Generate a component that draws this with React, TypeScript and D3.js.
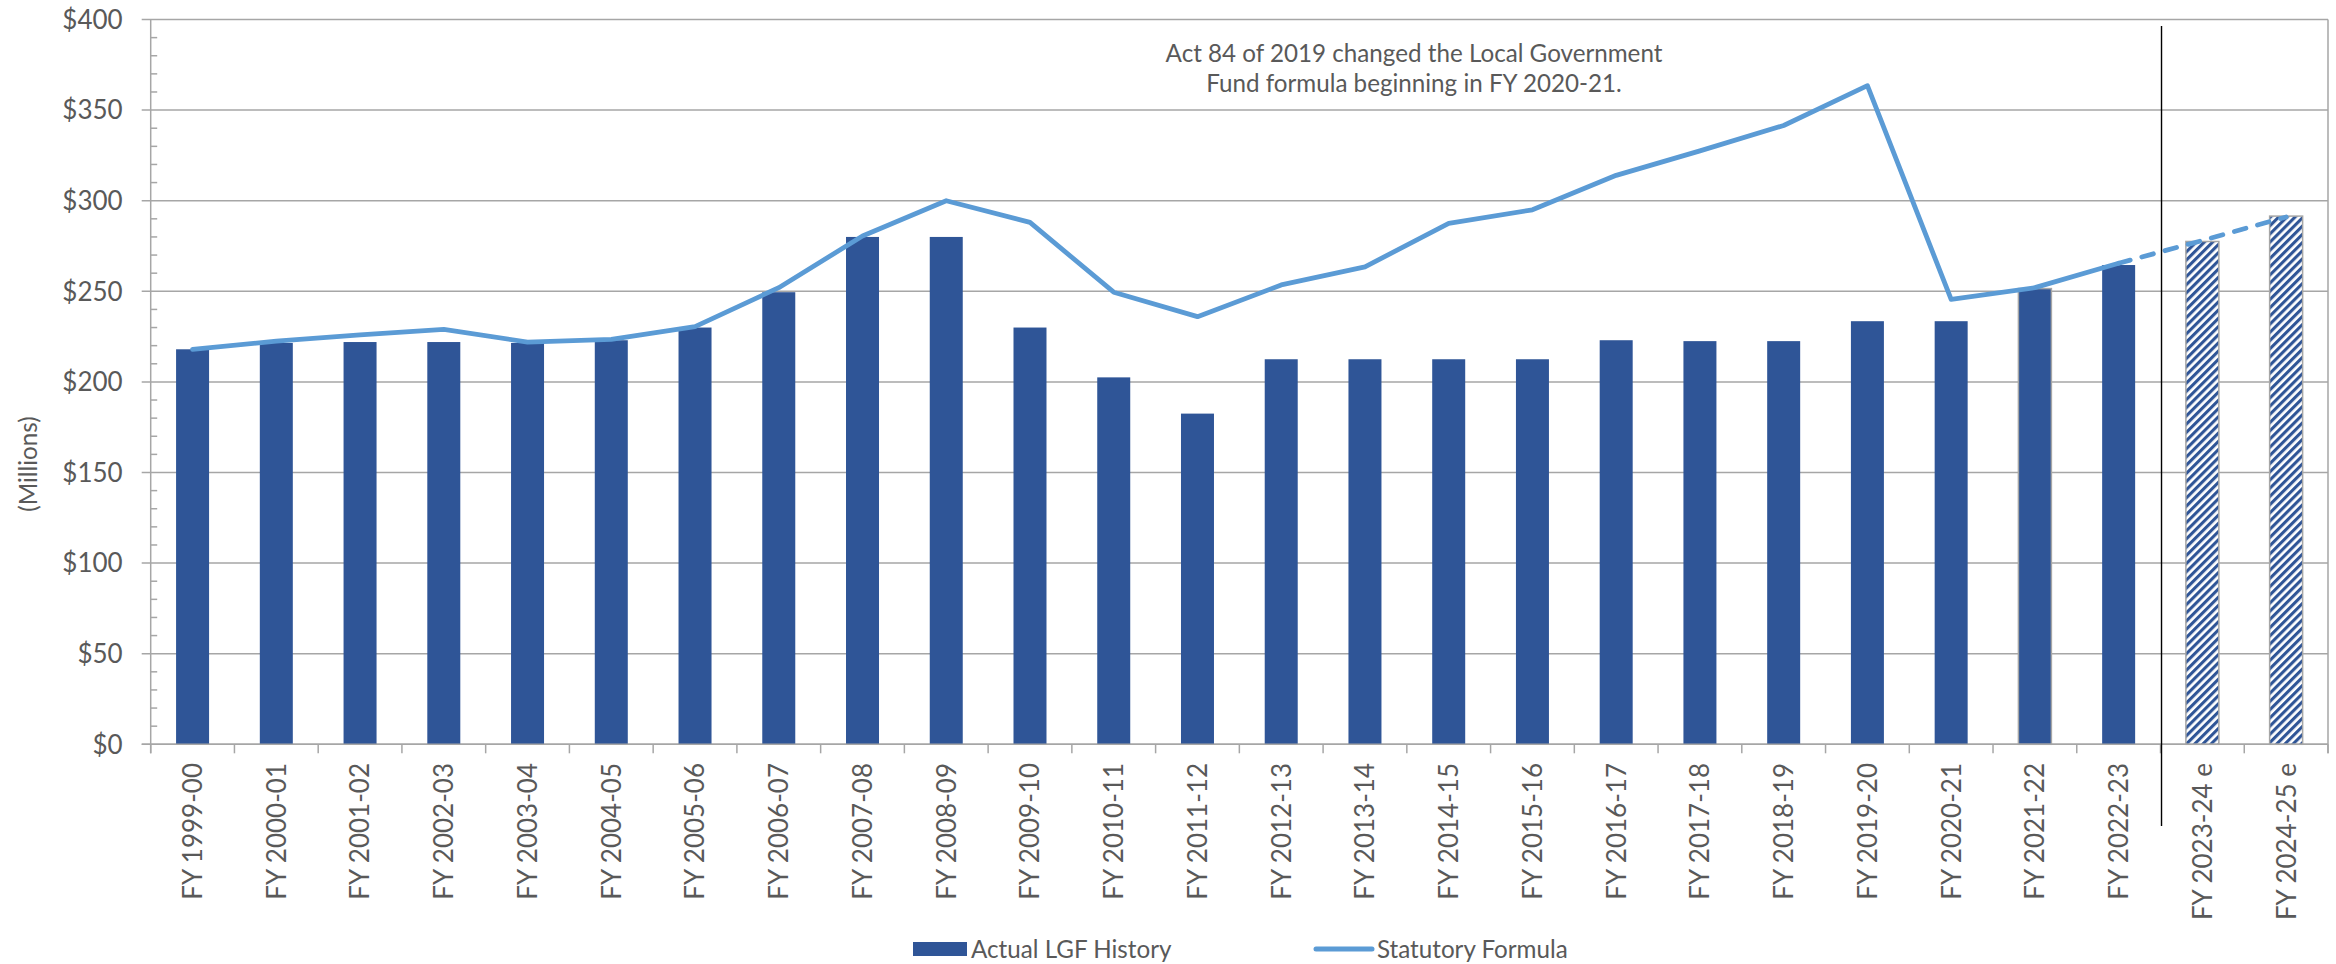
import React from 'react';
import * as d3 from 'd3';

const categories = [
  'FY 1999-00', 'FY 2000-01', 'FY 2001-02', 'FY 2002-03', 'FY 2003-04', 'FY 2004-05',
  'FY 2005-06', 'FY 2006-07', 'FY 2007-08', 'FY 2008-09', 'FY 2009-10', 'FY 2010-11',
  'FY 2011-12', 'FY 2012-13', 'FY 2013-14', 'FY 2014-15', 'FY 2015-16', 'FY 2016-17',
  'FY 2017-18', 'FY 2018-19', 'FY 2019-20', 'FY 2020-21', 'FY 2021-22', 'FY 2022-23',
  'FY 2023-24 e', 'FY 2024-25 e',
];

const actualLGF = [
  218, 221.5, 222, 222, 221.5, 223, 230, 249.5, 280, 280, 230, 202.5, 182.5, 212.5,
  212.5, 212.5, 212.5, 223, 222.5, 222.5, 233.5, 233.5, 251.5, 264.5, 277.5, 291.5,
];

const statutoryFormula = [
  218, 222.5, 226, 229, 222, 223.5, 230.5, 252, 280.5, 300, 288, 249.5, 236, 253.5,
  263.5, 287.5, 295, 314, 327.5, 341.5, 363.5, 245.5, 252, 265.5, 278, 291,
];

const estimateCategories = ['FY 2023-24 e', 'FY 2024-25 e'];
const lastActualCategory = 'FY 2022-23';
const outlinedCategory = 'FY 2021-22';

const yMajorTicks = [0, 50, 100, 150, 200, 250, 300, 350, 400];
const yMinorStep = 10;
const yAxisTitle = '(Millions)';
const annotationLines = [
  'Act 84 of 2019 changed the Local Government',
  'Fund formula beginning in FY 2020-21.',
];
const legendLabels = ['Actual LGF History', 'Statutory Formula'];

const W = 2336;
const H = 964;
const PLOT = { left: 150.7, right: 2328, top: 19.5, bottom: 744.3 };
const BAR = '#2F5597';
const LINE = '#5B9BD5';
const GRID = '#A6A6A6';
const TEXT = '#595959';
const FONT = "Lato, 'Open Sans', sans-serif";
const FS = 26;
const FS_TEXT = 24.2;

export default function App() {
  const x = d3
    .scaleBand<string>()
    .domain(categories)
    .range([PLOT.left, PLOT.right])
    .paddingInner(0.606)
    .paddingOuter(0.303);
  const y = d3.scaleLinear().domain([0, 400]).range([PLOT.bottom, PLOT.top]);
  const bw = x.bandwidth();
  const half = (x.step() - bw) / 2;
  const cx = (c: string) => (x(c) as number) + bw / 2;

  const pts: [string, number][] = categories.map((c, i) => [c, statutoryFormula[i]]);
  const lastIdx = categories.indexOf(lastActualCategory);
  const line = d3
    .line<[string, number]>()
    .x((d) => cx(d[0]))
    .y((d) => y(d[1]));
  const solidPath = line(pts.slice(0, lastIdx + 1)) || '';
  const dashedPath = line(pts.slice(lastIdx)) || '';

  const minorTicks = d3.range(0, 401, yMinorStep).filter((v) => v % 50 !== 0);
  const boundaries = categories.map((c) => (x(c) as number) - half).concat([PLOT.right]);
  const sepX = (x(estimateCategories[0]) as number) - half + 1;

  return (
    <svg
      width={W}
      height={H}
      style={{ position: 'absolute', left: 0, top: 0, background: '#fff' }}
      fontFamily={FONT}
    >
      <defs>
        <pattern
          id="hatch"
          patternUnits="userSpaceOnUse"
          width={5.8}
          height={5.8}
          patternTransform="rotate(45)"
        >
          <rect x={0} y={0} width={5.8} height={5.8} fill="#fff" />
          <rect x={0} y={0} width={3.1} height={5.8} fill={BAR} />
        </pattern>
      </defs>
      <rect x={0} y={0} width={W} height={H} fill="#fff" />

      {yMajorTicks.map((v) => (
        <line
          key={'g' + v}
          x1={PLOT.left - 9}
          x2={PLOT.right}
          y1={y(v)}
          y2={y(v)}
          stroke={GRID}
          strokeWidth={1.5}
        />
      ))}
      {minorTicks.map((v) => (
        <line
          key={'m' + v}
          x1={PLOT.left}
          x2={PLOT.left + 6.5}
          y1={y(v)}
          y2={y(v)}
          stroke={GRID}
          strokeWidth={1.5}
        />
      ))}
      <line x1={PLOT.right} x2={PLOT.right} y1={PLOT.top} y2={PLOT.bottom + 9} stroke={GRID} strokeWidth={1.5} />
      {boundaries.map((b, i) => (
        <line key={'t' + i} x1={b} x2={b} y1={PLOT.bottom} y2={PLOT.bottom + 9} stroke={GRID} strokeWidth={1.5} />
      ))}

      {categories.map((c, i) => {
        const est = estimateCategories.includes(c);
        const outlined = c === outlinedCategory;
        return (
          <rect
            key={'b' + c}
            x={x(c)}
            y={y(actualLGF[i])}
            width={bw}
            height={y(0) - y(actualLGF[i])}
            fill={est ? 'url(#hatch)' : BAR}
            stroke={est || outlined ? GRID : 'none'}
            strokeWidth={est || outlined ? 1.5 : 0}
          />
        );
      })}

      <line x1={PLOT.left} x2={PLOT.left} y1={PLOT.top} y2={PLOT.bottom + 9} stroke={GRID} strokeWidth={1.5} />
      <line x1={PLOT.left - 9} x2={PLOT.right} y1={PLOT.bottom} y2={PLOT.bottom} stroke={GRID} strokeWidth={1.5} />

      <path d={solidPath} fill="none" stroke={LINE} strokeWidth={4.8} strokeLinejoin="round" strokeLinecap="round" />
      <path
        d={dashedPath}
        fill="none"
        stroke={LINE}
        strokeWidth={4.8}
        strokeLinejoin="round"
        strokeLinecap="round"
        strokeDasharray="12 12"
      />

      <line x1={sepX} x2={sepX} y1={26} y2={826} stroke="#000" strokeWidth={1.4} />

      {yMajorTicks.map((v) => (
        <text
          key={'yl' + v}
          x={122.7}
          y={y(v)}
          dy="0.36em"
          textAnchor="end"
          fontSize={FS}
          fill={TEXT}
        >
          {'$' + v}
        </text>
      ))}
      <text
        transform={`translate(28,464) rotate(-90)`}
        textAnchor="middle"
        dy="0.36em"
        fontSize={FS_TEXT}
        fill={TEXT}
      >
        {yAxisTitle}
      </text>

      {categories.map((c) => (
        <text
          key={'xl' + c}
          transform={`translate(${cx(c)},763) rotate(-90)`}
          textAnchor="end"
          dy="0.36em"
          fontSize={FS}
          fill={TEXT}
        >
          {c}
        </text>
      ))}

      {annotationLines.map((t, i) => (
        <text key={'a' + i} x={1414} y={62 + i * 30} textAnchor="middle" fontSize={FS_TEXT} fill={TEXT}>
          {t}
        </text>
      ))}

      <rect x={913} y={942} width={54} height={14} fill={BAR} />
      <text x={971} y={949} dy="0.36em" fontSize={FS_TEXT} fill={TEXT}>
        {legendLabels[0]}
      </text>
      <line x1={1316} x2={1372} y1={949} y2={949} stroke={LINE} strokeWidth={5} strokeLinecap="round" />
      <text x={1377} y={949} dy="0.36em" fontSize={FS_TEXT} fill={TEXT}>
        {legendLabels[1]}
      </text>
    </svg>
  );
}
